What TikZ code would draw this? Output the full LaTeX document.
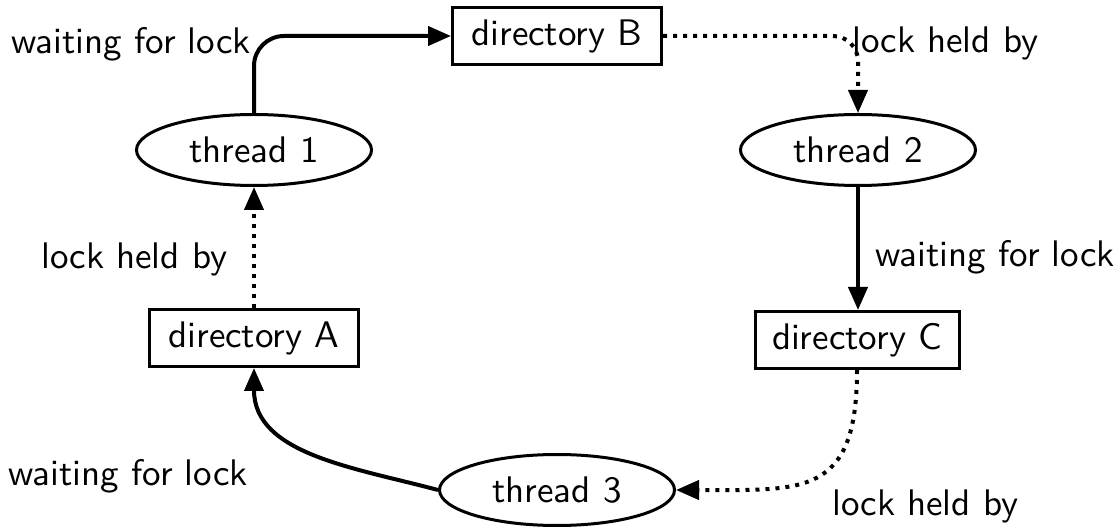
\documentclass[tikz,border=0pt]{standalone}
\usepackage{fontspec}
\newfontfamily\lmsansten{lmsans10-regular.otf}
\usetikzlibrary{arrows.meta,shapes.geometric}
\begin{document}
\begin{tikzpicture}[x=1pt,y=-1pt,
  every node/.style={font=\lmsansten\fontsize{37}{44}\selectfont},
  dirbox/.style={draw,line width=3pt,inner xsep=0pt,inner ysep=0pt,minimum height=57pt},
  thr/.style={draw,ellipse,line width=3pt,inner sep=0pt,minimum width=235pt,minimum height=71pt},
  lbl/.style={inner sep=0pt,anchor=base west},
  tip/.style={-{Triangle[length=23pt,width=19pt]}},
  waitarrow/.style={tip,line width=4pt},
  heldarrow/.style={tip,line width=4pt,dash pattern=on 4pt off 6pt}
]
\useasboundingbox (0,0) rectangle (1120,529);
\node[dirbox,minimum width=209pt] (dirB) at (557,36) {directory B};
\node[thr] (t1) at (254,150) {thread 1};
\node[thr] (t2) at (858,150) {thread 2};
\node[dirbox,minimum width=209pt] (dirA) at (254,338) {directory A};
\node[dirbox,minimum width=204pt] (dirC) at (857,340) {directory C};
\node[thr] (t3) at (557,490) {thread 3};

\draw[waitarrow,rounded corners=30pt] (t1.north) |- (dirB.west);
\draw[heldarrow,rounded corners=25pt] (dirB.east) -| (t2.north);
\draw[waitarrow] (t2.south) -- (t2.south |- dirC.north);
\draw[heldarrow] (dirC.south) to[out=-90,in=0,looseness=1.5] (t3.east);
\draw[waitarrow] (t3.west) to[out=165,in=-90] (dirA.south);
\draw[heldarrow] (dirA.north) -- (t1.south);

\node[lbl] (l1) at (11,54) {waiting for lock};
\node[lbl] (l2) at (852,53) {lock held by};
\node[lbl] (l3) at (41,269) {lock held by};
\node[lbl] (l4) at (875,267) {waiting for lock};
\node[lbl] (l5) at (8,485) {waiting for lock};
\node[lbl] (l6) at (832,515) {lock held by};
\end{tikzpicture}
\end{document}
